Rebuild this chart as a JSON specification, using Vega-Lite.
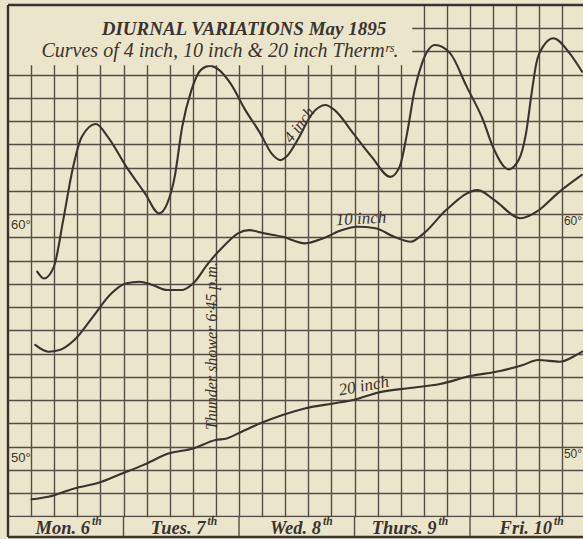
{
  "$schema": "https://vega.github.io/schema/vega-lite/v6.json",
  "width": 575,
  "height": 532,
  "autosize": "none",
  "padding": {"left": 8, "top": 5, "right": 0, "bottom": 2},
  "background": "#ebe5cb",
  "config": {"view": {"stroke": null}},
  "datasets": {
    "curves": [
      {"series": "4 inch", "day": 0.253, "temp": 57.52},
      {"series": "4 inch", "day": 0.311, "temp": 57.23},
      {"series": "4 inch", "day": 0.397, "temp": 57.73},
      {"series": "4 inch", "day": 0.478, "temp": 59.74},
      {"series": "4 inch", "day": 0.558, "temp": 61.89},
      {"series": "4 inch", "day": 0.639, "temp": 63.32},
      {"series": "4 inch", "day": 0.761, "temp": 63.87},
      {"series": "4 inch", "day": 0.864, "temp": 63.32},
      {"series": "4 inch", "day": 1.025, "temp": 62.03},
      {"series": "4 inch", "day": 1.186, "temp": 60.89},
      {"series": "4 inch", "day": 1.308, "temp": 60.03},
      {"series": "4 inch", "day": 1.379, "temp": 60.46},
      {"series": "4 inch", "day": 1.443, "temp": 61.6},
      {"series": "4 inch", "day": 1.508, "temp": 63.75},
      {"series": "4 inch", "day": 1.588, "temp": 65.33},
      {"series": "4 inch", "day": 1.668, "temp": 66.19},
      {"series": "4 inch", "day": 1.749, "temp": 66.37},
      {"series": "4 inch", "day": 1.829, "temp": 66.19},
      {"series": "4 inch", "day": 1.926, "temp": 65.62},
      {"series": "4 inch", "day": 2.055, "temp": 64.47},
      {"series": "4 inch", "day": 2.184, "temp": 63.47},
      {"series": "4 inch", "day": 2.281, "temp": 62.61},
      {"series": "4 inch", "day": 2.361, "temp": 62.32},
      {"series": "4 inch", "day": 2.409, "temp": 62.46},
      {"series": "4 inch", "day": 2.506, "temp": 63.18},
      {"series": "4 inch", "day": 2.635, "temp": 64.33},
      {"series": "4 inch", "day": 2.747, "temp": 64.69},
      {"series": "4 inch", "day": 2.828, "temp": 64.47},
      {"series": "4 inch", "day": 2.989, "temp": 63.47},
      {"series": "4 inch", "day": 3.149, "temp": 62.46},
      {"series": "4 inch", "day": 3.31, "temp": 61.6},
      {"series": "4 inch", "day": 3.39, "temp": 62.03},
      {"series": "4 inch", "day": 3.455, "temp": 63.47},
      {"series": "4 inch", "day": 3.52, "temp": 65.33},
      {"series": "4 inch", "day": 3.584, "temp": 66.48},
      {"series": "4 inch", "day": 3.697, "temp": 67.27},
      {"series": "4 inch", "day": 3.827, "temp": 66.92},
      {"series": "4 inch", "day": 3.971, "temp": 65.48},
      {"series": "4 inch", "day": 4.113, "temp": 64.04},
      {"series": "4 inch", "day": 4.199, "temp": 62.88},
      {"series": "4 inch", "day": 4.334, "temp": 61.92},
      {"series": "4 inch", "day": 4.421, "temp": 62.32},
      {"series": "4 inch", "day": 4.485, "temp": 63.48},
      {"series": "4 inch", "day": 4.533, "temp": 65.19},
      {"series": "4 inch", "day": 4.574, "temp": 66.48},
      {"series": "4 inch", "day": 4.632, "temp": 67.2},
      {"series": "4 inch", "day": 4.721, "temp": 67.56},
      {"series": "4 inch", "day": 4.863, "temp": 66.91},
      {"series": "4 inch", "day": 4.97, "temp": 66.12},
      {"series": "10 inch", "day": 0.236, "temp": 54.37},
      {"series": "10 inch", "day": 0.349, "temp": 54.08},
      {"series": "10 inch", "day": 0.446, "temp": 54.15},
      {"series": "10 inch", "day": 0.574, "temp": 54.58},
      {"series": "10 inch", "day": 0.735, "temp": 55.58},
      {"series": "10 inch", "day": 0.896, "temp": 56.59},
      {"series": "10 inch", "day": 1.025, "temp": 57.02},
      {"series": "10 inch", "day": 1.138, "temp": 57.09},
      {"series": "10 inch", "day": 1.25, "temp": 56.95},
      {"series": "10 inch", "day": 1.379, "temp": 56.73},
      {"series": "10 inch", "day": 1.508, "temp": 56.73},
      {"series": "10 inch", "day": 1.604, "temp": 57.02},
      {"series": "10 inch", "day": 1.733, "temp": 57.88},
      {"series": "10 inch", "day": 1.862, "temp": 58.59},
      {"series": "10 inch", "day": 1.991, "temp": 59.17},
      {"series": "10 inch", "day": 2.087, "temp": 59.31},
      {"series": "10 inch", "day": 2.216, "temp": 59.17},
      {"series": "10 inch", "day": 2.377, "temp": 59.02},
      {"series": "10 inch", "day": 2.57, "temp": 58.74},
      {"series": "10 inch", "day": 2.731, "temp": 58.96},
      {"series": "10 inch", "day": 2.892, "temp": 59.31},
      {"series": "10 inch", "day": 3.021, "temp": 59.45},
      {"series": "10 inch", "day": 3.182, "temp": 59.39},
      {"series": "10 inch", "day": 3.342, "temp": 59.02},
      {"series": "10 inch", "day": 3.487, "temp": 58.81},
      {"series": "10 inch", "day": 3.6, "temp": 59.17},
      {"series": "10 inch", "day": 3.793, "temp": 60.17},
      {"series": "10 inch", "day": 4.067, "temp": 61.03},
      {"series": "10 inch", "day": 4.211, "temp": 60.6},
      {"series": "10 inch", "day": 4.436, "temp": 59.82},
      {"series": "10 inch", "day": 4.597, "temp": 60.17},
      {"series": "10 inch", "day": 4.758, "temp": 60.89},
      {"series": "10 inch", "day": 4.968, "temp": 61.68},
      {"series": "20 inch", "day": 0.204, "temp": 47.73},
      {"series": "20 inch", "day": 0.349, "temp": 47.84},
      {"series": "20 inch", "day": 0.574, "temp": 48.2},
      {"series": "20 inch", "day": 0.784, "temp": 48.44},
      {"series": "20 inch", "day": 0.993, "temp": 48.85},
      {"series": "20 inch", "day": 1.17, "temp": 49.2},
      {"series": "20 inch", "day": 1.395, "temp": 49.71},
      {"series": "20 inch", "day": 1.604, "temp": 49.92},
      {"series": "20 inch", "day": 1.797, "temp": 50.28},
      {"series": "20 inch", "day": 1.894, "temp": 50.35},
      {"series": "20 inch", "day": 2.023, "temp": 50.64},
      {"series": "20 inch", "day": 2.184, "temp": 51.0},
      {"series": "20 inch", "day": 2.377, "temp": 51.36},
      {"series": "20 inch", "day": 2.57, "temp": 51.64},
      {"series": "20 inch", "day": 2.828, "temp": 51.86},
      {"series": "20 inch", "day": 2.989, "temp": 52.0},
      {"series": "20 inch", "day": 3.221, "temp": 52.34},
      {"series": "20 inch", "day": 3.481, "temp": 52.52},
      {"series": "20 inch", "day": 3.74, "temp": 52.69},
      {"series": "20 inch", "day": 4.0, "temp": 53.03},
      {"series": "20 inch", "day": 4.26, "temp": 53.25},
      {"series": "20 inch", "day": 4.459, "temp": 53.51},
      {"series": "20 inch", "day": 4.589, "temp": 53.72},
      {"series": "20 inch", "day": 4.777, "temp": 53.65},
      {"series": "20 inch", "day": 4.892, "temp": 53.86},
      {"series": "20 inch", "day": 4.97, "temp": 54.08}
    ],
    "notes": [
      {"label": "4 inch", "day": 2.52, "temp": 63.83},
      {"label": "10 inch", "day": 3.056, "temp": 59.79},
      {"label": "20 inch", "day": 3.08, "temp": 52.6},
      {"label": "Thunder shower 6·45 p.m.", "day": 1.764, "temp": 54.32}
    ],
    "scaleLabels": [
      {"label": "60°", "temp": 60},
      {"label": "50°", "temp": 50}
    ],
    "days": [
      {"day": 0, "label": "Mon. 6", "sup": "th"},
      {"day": 1, "label": "Tues. 7", "sup": "th"},
      {"day": 2, "label": "Wed. 8", "sup": "th"},
      {"day": 3, "label": "Thurs. 9", "sup": "th"},
      {"day": 4, "label": "Fri. 10", "sup": "th"}
    ],
    "titles": [
      {"label": "DIURNAL VARIATIONS May 1895", "kind": "title"},
      {"label": "Curves of 4 inch, 10 inch & 20 inch Thermʳˢ.", "kind": "subtitle"}
    ]
  },
  "layer": [
    {
      "data": {"name": "curves"},
      "mark": {"type": "line", "interpolate": "monotone", "color": "#3a342d", "strokeWidth": 2.1, "strokeCap": "round"},
      "encoding": {
        "x": {"field": "day", "type": "quantitative",
          "scale": {"domain": [0, 4.978], "nice": false, "zero": false},
          "axis": {"values": [0.2,0.4,0.6,0.8,1,1.2,1.4,1.6,1.8,2,2.2,2.4,2.6,2.8,3,3.2,3.4,3.6,3.8,4,4.2,4.4,4.6,4.8],
            "tickCount": 40,
            "grid": true, "gridColor": "#554e46", "gridWidth": 1.4, "gridOpacity": 1, "zindex": 0,
            "labels": false, "ticks": false, "domain": false, "title": null}},
        "y": {"field": "temp", "type": "quantitative",
          "scale": {"domain": [46.11, 68.99], "nice": false, "zero": false},
          "axis": {"values": [47,48,49,50,51,52,53,54,55,56,57,58,59,60,61,62,63,64,65,66,67,68],
            "tickCount": 40,
            "grid": true, "gridColor": "#554e46", "gridWidth": 1.4, "gridOpacity": 1, "zindex": 0,
            "labels": false, "ticks": false, "domain": false, "title": null}},
        "detail": {"field": "series"}
      }
    },
    {
      "data": {"values": [{"area": "title box"}]},
      "mark": {"type": "rect", "color": "#ebe5cb", "opacity": 1},
      "encoding": {
        "x": {"datum": 0}, "x2": {"datum": 3.5},
        "y": {"datum": 66.4}, "y2": {"datum": 68.99}
      }
    },
    {
      "data": {"values": [{"area": "day row"}]},
      "mark": {"type": "rect", "color": "#ebe5cb", "opacity": 1},
      "encoding": {
        "x": {"datum": 0}, "x2": {"datum": 4.978},
        "y": {"datum": 46.11}, "y2": {"datum": 46.96}
      }
    },
    {
      "data": {"name": "days"},
      "mark": {"type": "rule", "color": "#554e46", "strokeWidth": 1.4},
      "encoding": {
        "x": {"field": "day", "type": "quantitative"},
        "y": {"datum": 46.11}, "y2": {"datum": 47}
      }
    },
    {
      "data": {"values": [{"edge": "left"}]},
      "mark": {"type": "rule", "color": "#3a342d", "strokeWidth": 2.4},
      "encoding": {
        "x": {"datum": 0},
        "y": {"datum": 46.11}, "y2": {"datum": 68.99}
      }
    },
    {
      "data": {"values": [{"edge": "top"}]},
      "mark": {"type": "rule", "color": "#3a342d", "strokeWidth": 2.4},
      "encoding": {
        "x": {"datum": 0}, "x2": {"datum": 4.978},
        "y": {"datum": 68.99}
      }
    },
    {
      "data": {"values": [{"edge": "bottom"}]},
      "mark": {"type": "rule", "color": "#3a342d", "strokeWidth": 2.4},
      "encoding": {
        "x": {"datum": 0}, "x2": {"datum": 4.978},
        "y": {"datum": 46.11}
      }
    },
    {
      "data": {"name": "days"},
      "mark": {"type": "text", "font": "Liberation Serif", "fontStyle": "italic", "fontWeight": "bold", "fontSize": 18.5, "color": "#3a342d", "align": "right", "baseline": "middle", "dx": 82},
      "encoding": {
        "x": {"field": "day", "type": "quantitative"},
        "y": {"datum": 46.5},
        "text": {"field": "label"}
      }
    },
    {
      "data": {"name": "days"},
      "mark": {"type": "text", "font": "Liberation Serif", "fontStyle": "italic", "fontWeight": "bold", "fontSize": 11.5, "color": "#3a342d", "align": "left", "baseline": "middle", "dx": 84, "dy": -6},
      "encoding": {
        "x": {"field": "day", "type": "quantitative"},
        "y": {"datum": 46.5},
        "text": {"field": "sup"}
      }
    },
    {
      "data": {"name": "scaleLabels"},
      "mark": {"type": "text", "font": "Liberation Sans", "fontSize": 13, "color": "#3a342d", "align": "left", "baseline": "middle", "dx": 3, "dy": 11},
      "encoding": {
        "x": {"datum": 0},
        "y": {"field": "temp", "type": "quantitative"},
        "text": {"field": "label"}
      }
    },
    {
      "data": {"name": "scaleLabels"},
      "mark": {"type": "text", "font": "Liberation Sans", "fontSize": 12, "color": "#3a342d", "align": "left", "baseline": "middle", "dx": 1.5, "dy": 7},
      "encoding": {
        "x": {"datum": 4.8},
        "y": {"field": "temp", "type": "quantitative"},
        "text": {"field": "label"}
      }
    },
    {
      "data": {"name": "titles"},
      "transform": [{"filter": "datum.kind === 'title'"}],
      "mark": {"type": "text", "font": "Liberation Serif", "fontStyle": "italic", "fontWeight": "bold", "fontSize": 19, "color": "#3a342d", "align": "center", "baseline": "middle"},
      "encoding": {
        "x": {"datum": 2.043},
        "y": {"datum": 67.94},
        "text": {"field": "label"}
      }
    },
    {
      "data": {"name": "titles"},
      "transform": [{"filter": "datum.kind === 'subtitle'"}],
      "mark": {"type": "text", "font": "Liberation Serif", "fontStyle": "italic", "fontSize": 20, "color": "#3a342d", "align": "center", "baseline": "middle"},
      "encoding": {
        "x": {"datum": 1.835},
        "y": {"datum": 67.01},
        "text": {"field": "label"}
      }
    },
    {
      "data": {"name": "notes"},
      "transform": [{"filter": "datum.label === '4 inch'"}],
      "mark": {"type": "text", "font": "Liberation Serif", "fontStyle": "italic", "fontSize": 16, "color": "#3a342d", "align": "center", "baseline": "middle", "angle": -53},
      "encoding": {
        "x": {"field": "day", "type": "quantitative"},
        "y": {"field": "temp", "type": "quantitative"},
        "text": {"field": "label"}
      }
    },
    {
      "data": {"name": "notes"},
      "transform": [{"filter": "datum.label === '10 inch'"}],
      "mark": {"type": "text", "font": "Liberation Serif", "fontStyle": "italic", "fontSize": 17, "color": "#3a342d", "align": "center", "baseline": "middle", "angle": -3},
      "encoding": {
        "x": {"field": "day", "type": "quantitative"},
        "y": {"field": "temp", "type": "quantitative"},
        "text": {"field": "label"}
      }
    },
    {
      "data": {"name": "notes"},
      "transform": [{"filter": "datum.label === '20 inch'"}],
      "mark": {"type": "text", "font": "Liberation Serif", "fontStyle": "italic", "fontSize": 17, "color": "#3a342d", "align": "center", "baseline": "middle", "angle": -10},
      "encoding": {
        "x": {"field": "day", "type": "quantitative"},
        "y": {"field": "temp", "type": "quantitative"},
        "text": {"field": "label"}
      }
    },
    {
      "data": {"name": "notes"},
      "transform": [{"filter": "indexof(datum.label, 'Thunder') === 0"}],
      "mark": {"type": "text", "font": "Liberation Serif", "fontStyle": "italic", "fontSize": 16, "color": "#3a342d", "align": "center", "baseline": "middle", "angle": -90},
      "encoding": {
        "x": {"field": "day", "type": "quantitative"},
        "y": {"field": "temp", "type": "quantitative"},
        "text": {"field": "label"}
      }
    }
  ]
}
